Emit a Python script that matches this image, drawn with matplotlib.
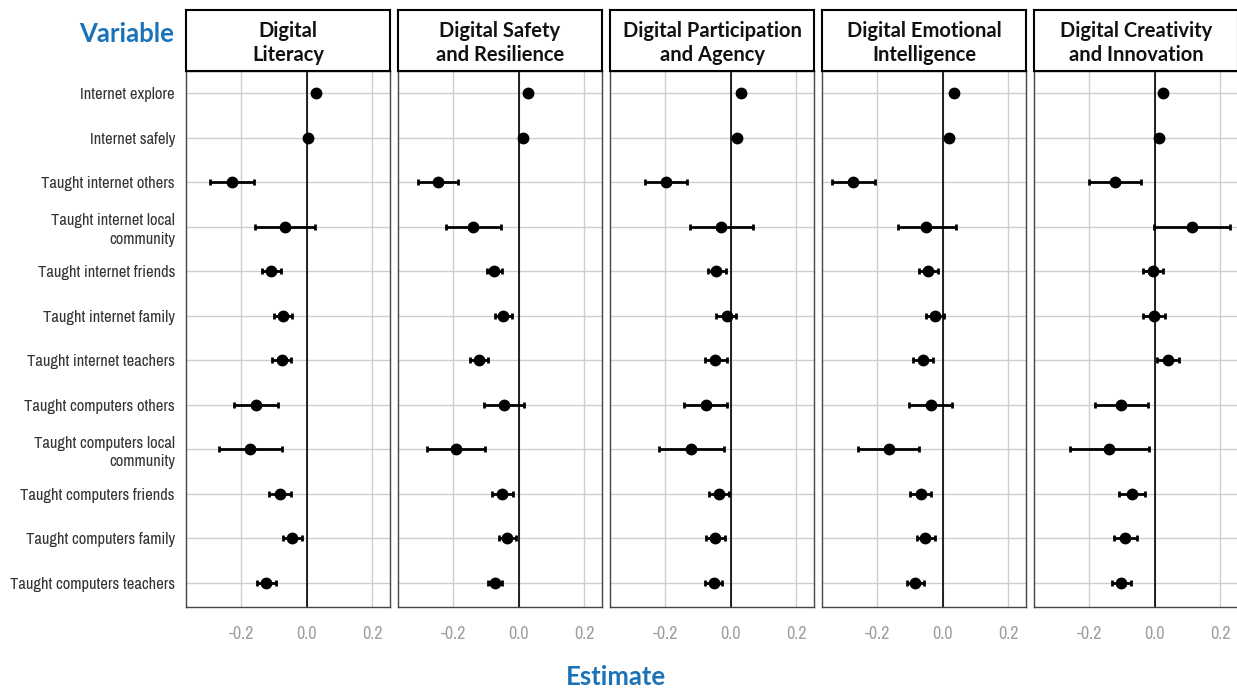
import matplotlib
matplotlib.use("Agg")
import matplotlib.pyplot as plt
from matplotlib import font_manager
import numpy as np

# ---------------------------------------------------------------------------
# Data: coefficient estimates with confidence bounds, one block per outcome
# ---------------------------------------------------------------------------

variables = [
    "Internet explore", "Internet safely", "Taught internet others",
    "Taught internet local\ncommunity", "Taught internet friends",
    "Taught internet family", "Taught internet teachers",
    "Taught computers others", "Taught computers local\ncommunity",
    "Taught computers friends", "Taught computers family",
    "Taught computers teachers",
]

outcomes = [
    "Digital\nLiteracy", "Digital Safety\nand Resilience",
    "Digital Participation\nand Agency", "Digital Emotional\nIntelligence",
    "Digital Creativity\nand Innovation",
]

est_literacy = [0.029, 0.005, -0.229, -0.068, -0.109, -0.072, -0.077, -0.156, -0.173, -0.082, -0.045, -0.125]
lo_literacy  = [0.022, -0.002, -0.298, -0.160, -0.137, -0.100, -0.108, -0.224, -0.268, -0.116, -0.073, -0.152]
hi_literacy  = [0.036, 0.012, -0.162, 0.026, -0.080, -0.044, -0.047, -0.089, -0.077, -0.049, -0.016, -0.095]

est_safety = [0.028, 0.014, -0.247, -0.141, -0.076, -0.048, -0.123, -0.045, -0.192, -0.052, -0.035, -0.072]
lo_safety  = [0.021, 0.007, -0.310, -0.224, -0.097, -0.073, -0.150, -0.108, -0.282, -0.082, -0.062, -0.094]
hi_safety  = [0.035, 0.021, -0.185, -0.055, -0.051, -0.020, -0.093, 0.017, -0.103, -0.018, -0.009, -0.050]

est_particip = [0.032, 0.018, -0.198, -0.029, -0.044, -0.013, -0.047, -0.077, -0.121, -0.036, -0.047, -0.052]
lo_particip  = [0.025, 0.011, -0.263, -0.125, -0.071, -0.044, -0.080, -0.142, -0.220, -0.068, -0.077, -0.078]
hi_particip  = [0.039, 0.025, -0.134, 0.068, -0.015, 0.016, -0.013, -0.011, -0.021, -0.004, -0.019, -0.027]

est_emotion = [0.034, 0.019, -0.276, -0.050, -0.045, -0.023, -0.060, -0.037, -0.166, -0.067, -0.053, -0.084]
lo_emotion  = [0.027, 0.012, -0.340, -0.137, -0.073, -0.050, -0.091, -0.103, -0.259, -0.099, -0.080, -0.111]
hi_emotion  = [0.041, 0.026, -0.209, 0.040, -0.015, 0.005, -0.030, 0.028, -0.072, -0.035, -0.025, -0.057]

est_creativ = [0.026, 0.012, -0.121, 0.113, -0.006, -0.003, 0.040, -0.103, -0.140, -0.070, -0.091, -0.103]
lo_creativ  = [0.019, 0.005, -0.201, -0.003, -0.036, -0.035, 0.007, -0.184, -0.259, -0.111, -0.125, -0.131]
hi_creativ  = [0.033, 0.019, -0.041, 0.229, 0.024, 0.031, 0.074, -0.021, -0.017, -0.030, -0.055, -0.074]

x_ticks = [-0.2, 0.0, 0.2]
x_tick_labels = ["-0.2", "0.0", "0.2"]

panels = [
    (est_literacy, lo_literacy, hi_literacy),
    (est_safety, lo_safety, hi_safety),
    (est_particip, lo_particip, hi_particip),
    (est_emotion, lo_emotion, hi_emotion),
    (est_creativ, lo_creativ, hi_creativ),
]

# ---------------------------------------------------------------------------
# Styling
# ---------------------------------------------------------------------------

BLUE = "#1a73b8"
GRID = "#cfcfcf"
HEAD = ["Lato", "DejaVu Sans"]

# prefer a condensed face for the axis labels if one is installed
_names = sorted({f.name for f in font_manager.fontManager.ttflist})
_narrow = [n for n in _names if "Narrow" in n or "Condensed" in n]
if _narrow:
    NARROW = [_narrow[0], "DejaVu Sans"]
    LAB_SIZE = 11.9
else:
    NARROW = ["Roboto", "DejaVu Sans"]
    LAB_SIZE = 10.5

W, H = 1237, 689
fig = plt.figure(figsize=(W / 100, H / 100), dpi=100)

panel_left0 = 186
panel_w = 204
panel_step = 212
plot_top, plot_bot = 71, 607
head_top = 10

ypos = np.arange(len(variables))

for k, (title, (est, lo, hi)) in enumerate(zip(outcomes, panels)):
    x0 = panel_left0 + k * panel_step
    ax = fig.add_axes([x0 / W, 1 - plot_bot / H, panel_w / W, (plot_bot - plot_top) / H])

    est = np.array(est)
    lo = np.array(lo)
    hi = np.array(hi)

    ax.set_xlim(-0.37, 0.255)
    ax.set_ylim(len(variables) - 0.45, -0.5)
    ax.set_xticks(x_ticks)
    ax.set_yticks(ypos)
    ax.grid(True, color=GRID, lw=1.0, zorder=0)
    ax.set_axisbelow(True)
    ax.axvline(0, color="black", lw=1.2, zorder=1)

    ax.errorbar(est, ypos, xerr=[est - lo, hi - est], fmt="o", color="black",
                ms=7.5, elinewidth=2.0, capsize=2.5, capthick=2.0, zorder=3)

    for s in ax.spines.values():
        s.set_color("#444444")
        s.set_linewidth(1.0)
    ax.tick_params(length=0, pad=14)
    ax.set_xticklabels(x_tick_labels, color="#a0a0a0", fontsize=13, family=NARROW)
    if k == 0:
        ax.set_yticklabels(variables, color="#333333", fontsize=LAB_SIZE, family=NARROW,
                           linespacing=1.3)
        ax.tick_params(axis="y", pad=8)
    else:
        ax.set_yticklabels([])

    # facet header strip
    hx = fig.add_axes([x0 / W, 1 - plot_top / H, panel_w / W, (plot_top - head_top) / H])
    hx.set_xticks([])
    hx.set_yticks([])
    for s in hx.spines.values():
        s.set_color("black")
        s.set_linewidth(1.5)
    hx.text(0.5, 0.46, title, ha="center", va="center", fontsize=14.5,
            fontweight="bold", family=HEAD, color="#111111", linespacing=1.3,
            transform=hx.transAxes)

fig.text(174 / W, 1 - 34 / H, "Variable", ha="right", va="center",
         fontsize=18.5, fontweight="bold", family=HEAD, color=BLUE)
fig.text(616 / W, 1 - 677 / H, "Estimate", ha="center", va="center",
         fontsize=18.5, fontweight="bold", family=HEAD, color=BLUE)

fig.savefig("out.png", dpi=100)
